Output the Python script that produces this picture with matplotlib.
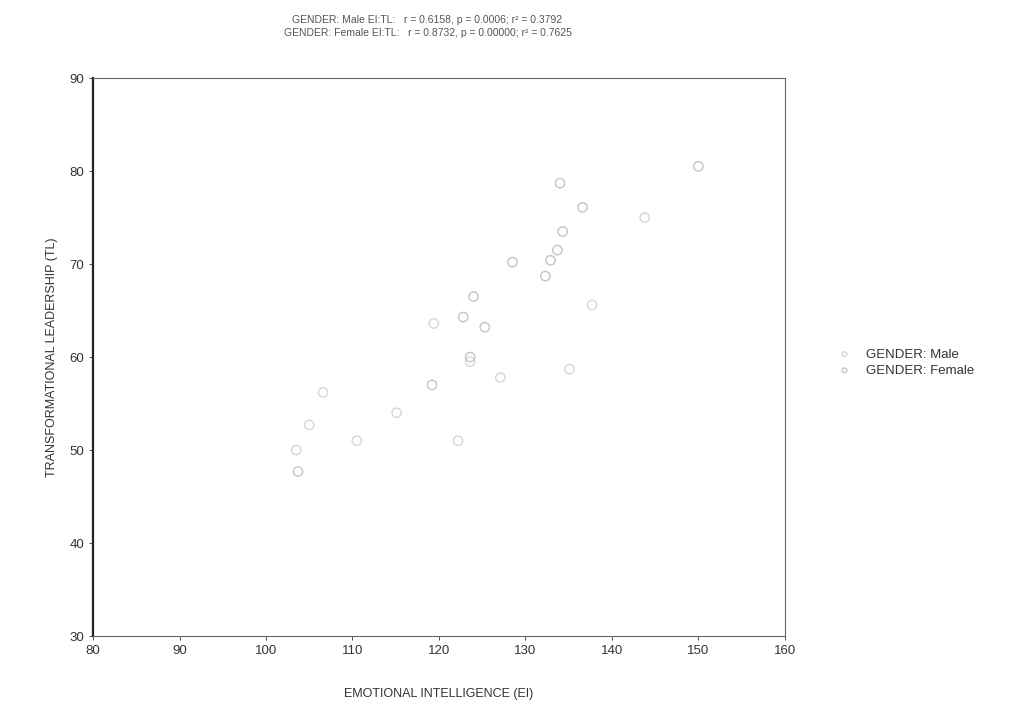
import matplotlib
matplotlib.use("Agg")
from matplotlib import pyplot as plt

plt.rcParams['font.family'] = ['Liberation Sans', 'DejaVu Sans']

# EI vs TL scores
male_ei = [103.5, 105.0, 106.6, 110.5, 115.1, 119.4, 122.2, 123.6, 127.1, 135.1, 137.7, 143.8]
male_tl = [50.0, 52.7, 56.2, 51.0, 54.0, 63.6, 51.0, 59.5, 57.8, 58.7, 65.6, 75.0]
female_ei = [103.7, 119.2, 122.8, 124.0, 125.3, 123.6, 128.5, 132.3, 132.9, 133.7, 134.0, 134.3, 136.6, 150.0]
female_tl = [47.7, 57.0, 64.3, 66.5, 63.2, 60.0, 70.2, 68.7, 70.4, 71.5, 78.7, 73.5, 76.1, 80.5]

title_lines = ["GENDER: Male EI:TL:   r = 0.6158, p = 0.0006; r² = 0.3792",
               "GENDER: Female EI:TL:   r = 0.8732, p = 0.00000; r² = 0.7625"]

fig = plt.figure(figsize=(10.18, 7.16), dpi=100)
ax = fig.add_axes([0.0914, 0.1117, 0.6796, 0.7793])

ax.scatter(male_ei, male_tl, s=45, facecolors='none', edgecolors='#d6d6d6', linewidths=1.0,
           label='GENDER: Male')
ax.scatter(female_ei, female_tl, s=45, facecolors='none', edgecolors='#c4c4c4', linewidths=1.0,
           label='GENDER: Female')

ax.set_xlim(80, 160)
ax.set_ylim(30, 90)
ax.set_xticks(range(80, 161, 10))
ax.set_yticks(range(30, 91, 10))
ax.tick_params(labelsize=9.5, colors='#333333', length=3, width=0.6)

for side in ['top', 'right', 'bottom']:
    ax.spines[side].set_color('#666666')
    ax.spines[side].set_linewidth(0.8)
ax.spines['left'].set_color('#222222')
ax.spines['left'].set_linewidth(1.6)

ax.set_xlabel('EMOTIONAL INTELLIGENCE (EI)', fontsize=9, color='#333333', labelpad=22)
ax.set_ylabel('TRANSFORMATIONAL LEADERSHIP (TL)', fontsize=9, color='#333333', labelpad=8)

fig.text(0.42, 0.968, title_lines[0], fontsize=7.5, color='#555555', ha='center')
fig.text(0.42, 0.950, title_lines[1], fontsize=7.5, color='#555555', ha='center')

ax.legend(loc='center left', bbox_to_anchor=(1.05, 0.49), frameon=False, fontsize=9.5,
          handletextpad=0.6, labelspacing=0.3, markerscale=0.5, labelcolor='#333333')

fig.savefig('out.png', dpi=100)
